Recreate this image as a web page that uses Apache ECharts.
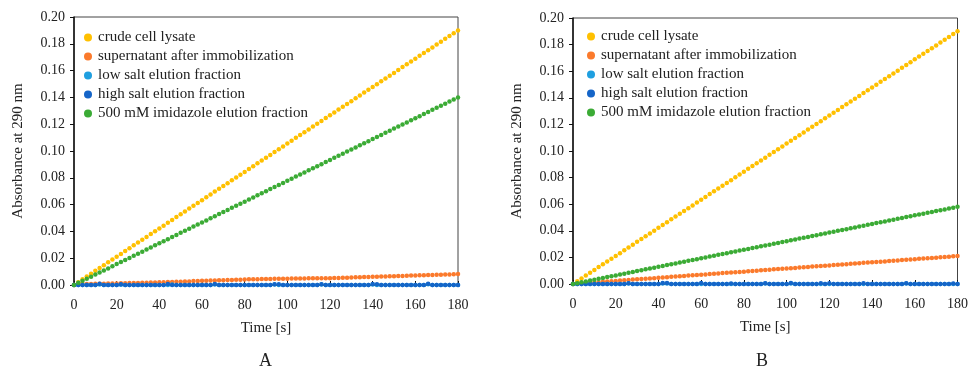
<!DOCTYPE html>
<html>
<head>
<meta charset="utf-8">
<script src="https://cdn.jsdelivr.net/npm/echarts@6/dist/echarts.min.js"></script>
<style>
  html, body { margin: 0; padding: 0; background: #fff; }
  #chart { width: 971px; height: 369px; }
</style>
</head>
<body>
<div id="chart"></div>
<script>
// Time points [s]
const times = [
  0, 2, 4, 6, 8, 10, 12, 14, 16, 18,
  20, 22, 24, 26, 28, 30, 32, 34, 36, 38,
  40, 42, 44, 46, 48, 50, 52, 54, 56, 58,
  60, 62, 64, 66, 68, 70, 72, 74, 76, 78,
  80, 82, 84, 86, 88, 90, 92, 94, 96, 98,
  100, 102, 104, 106, 108, 110, 112, 114, 116, 118,
  120, 122, 124, 126, 128, 130, 132, 134, 136, 138,
  140, 142, 144, 146, 148, 150, 152, 154, 156, 158,
  160, 162, 164, 166, 168, 170, 172, 174, 176, 178,
  180
];

const seriesNames = [
  'crude cell lysate',
  'supernatant after immobilization',
  'low salt elution fraction',
  'high salt elution fraction',
  '500 mM imidazole elution fraction'
];

// crude cell lysate (same trace in both panels)
const lysate = [
  0, 0.0021, 0.0042, 0.0063, 0.0084, 0.0106, 0.0127, 0.0148, 0.0169, 0.0190,
  0.0211, 0.0232, 0.0253, 0.0274, 0.0296, 0.0317, 0.0338, 0.0359, 0.0380, 0.0401,
  0.0422, 0.0443, 0.0464, 0.0486, 0.0507, 0.0528, 0.0549, 0.0570, 0.0591, 0.0612,
  0.0633, 0.0654, 0.0676, 0.0697, 0.0718, 0.0739, 0.0760, 0.0781, 0.0802, 0.0823,
  0.0844, 0.0866, 0.0887, 0.0908, 0.0929, 0.0950, 0.0971, 0.0992, 0.1013, 0.1034,
  0.1056, 0.1077, 0.1098, 0.1119, 0.1140, 0.1161, 0.1182, 0.1203, 0.1224, 0.1246,
  0.1267, 0.1288, 0.1309, 0.1330, 0.1351, 0.1372, 0.1393, 0.1414, 0.1436, 0.1457,
  0.1478, 0.1499, 0.1520, 0.1541, 0.1562, 0.1583, 0.1604, 0.1626, 0.1647, 0.1668,
  0.1689, 0.1710, 0.1731, 0.1752, 0.1773, 0.1794, 0.1816, 0.1837, 0.1858, 0.1879,
  0.1900
];

// Panel A
const supernatantA = [
  0, 0.0006, 0.0007, 0.0008, 0.0008, 0.0009, 0.0010, 0.0010, 0.0011, 0.0011,
  0.0012, 0.0013, 0.0013, 0.0014, 0.0015, 0.0015, 0.0016, 0.0017, 0.0018, 0.0019,
  0.0020, 0.0021, 0.0022, 0.0023, 0.0024, 0.0025, 0.0026, 0.0027, 0.0029, 0.0030,
  0.0031, 0.0032, 0.0033, 0.0034, 0.0035, 0.0036, 0.0037, 0.0038, 0.0039, 0.0040,
  0.0041, 0.0042, 0.0043, 0.0043, 0.0044, 0.0045, 0.0045, 0.0046, 0.0046, 0.0047,
  0.0047, 0.0048, 0.0048, 0.0049, 0.0049, 0.0050, 0.0050, 0.0050, 0.0050, 0.0051,
  0.0051, 0.0052, 0.0053, 0.0054, 0.0055, 0.0056, 0.0057, 0.0058, 0.0059, 0.0060,
  0.0061, 0.0062, 0.0063, 0.0064, 0.0065, 0.0066, 0.0067, 0.0068, 0.0069, 0.0070,
  0.0071, 0.0072, 0.0073, 0.0074, 0.0075, 0.0076, 0.0077, 0.0078, 0.0079, 0.0080,
  0.0082
];
const lowSaltA = [
  0, 0, 0, 0, 0, 0, 0.0004, 0, 0, 0,
  0, 0.0002, 0, 0, 0, 0, 0, 0, 0, 0,
  0, 0, 0, 0.0003, 0, 0, 0, 0, 0, 0,
  0, 0, 0, 0.0003, 0, 0, 0, 0, 0, 0,
  0, 0, 0, 0, 0, 0, 0, 0.0004, 0, 0,
  0, 0, 0, 0, 0, 0, 0, 0, 0.0003, 0,
  0, 0, 0, 0, 0, 0, 0, 0, 0, 0,
  0.0004, 0, 0, 0, 0, 0, 0, 0, 0, 0,
  0, 0, 0, 0.0005, 0, 0, 0, 0, 0, 0,
  0
];
const highSaltA = [
  0, 0, 0, 0, 0, 0, 0.0009, 0, 0, 0,
  0, 0.0006, 0, 0, 0, 0, 0, 0, 0, 0,
  0, 0, 0.0008, 0, 0, 0, 0, 0, 0, 0,
  0, 0, 0, 0.0007, 0, 0, 0, 0, 0, 0,
  0, 0, 0, 0, 0, 0, 0, 0.0006, 0.0006, 0,
  0, 0, 0, 0, 0, 0, 0, 0, 0.0005, 0,
  0, 0, 0, 0, 0, 0, 0, 0, 0, 0,
  0.0007, 0.0006, 0, 0, 0, 0, 0, 0, 0, 0,
  0, 0, 0, 0.0009, 0, 0, 0, 0, 0, 0,
  0
];
const imidazoleA = [
  0, 0.0016, 0.0031, 0.0047, 0.0062, 0.0078, 0.0093, 0.0109, 0.0124, 0.0140,
  0.0156, 0.0171, 0.0187, 0.0202, 0.0218, 0.0233, 0.0249, 0.0264, 0.0280, 0.0296,
  0.0311, 0.0327, 0.0342, 0.0358, 0.0373, 0.0389, 0.0404, 0.0420, 0.0436, 0.0451,
  0.0467, 0.0482, 0.0498, 0.0513, 0.0529, 0.0544, 0.0560, 0.0576, 0.0591, 0.0607,
  0.0622, 0.0638, 0.0653, 0.0669, 0.0684, 0.0700, 0.0716, 0.0731, 0.0747, 0.0762,
  0.0778, 0.0793, 0.0809, 0.0824, 0.0840, 0.0856, 0.0871, 0.0887, 0.0902, 0.0918,
  0.0933, 0.0949, 0.0964, 0.0980, 0.0996, 0.1011, 0.1027, 0.1042, 0.1058, 0.1073,
  0.1089, 0.1104, 0.1120, 0.1136, 0.1151, 0.1167, 0.1182, 0.1198, 0.1213, 0.1229,
  0.1244, 0.1260, 0.1276, 0.1291, 0.1307, 0.1322, 0.1338, 0.1353, 0.1369, 0.1384,
  0.1400
];

// Panel B
const supernatantB = [
  0, 0.0002, 0.0005, 0.0007, 0.0009, 0.0012, 0.0014, 0.0016, 0.0019, 0.0021,
  0.0023, 0.0026, 0.0028, 0.0030, 0.0033, 0.0035, 0.0037, 0.0040, 0.0042, 0.0044,
  0.0047, 0.0049, 0.0051, 0.0054, 0.0056, 0.0058, 0.0061, 0.0063, 0.0065, 0.0068,
  0.0070, 0.0072, 0.0075, 0.0077, 0.0079, 0.0082, 0.0084, 0.0086, 0.0089, 0.0091,
  0.0093, 0.0096, 0.0098, 0.0100, 0.0103, 0.0105, 0.0107, 0.0110, 0.0112, 0.0114,
  0.0117, 0.0119, 0.0121, 0.0124, 0.0126, 0.0128, 0.0131, 0.0133, 0.0135, 0.0138,
  0.0140, 0.0142, 0.0145, 0.0147, 0.0149, 0.0152, 0.0154, 0.0156, 0.0159, 0.0161,
  0.0163, 0.0166, 0.0168, 0.0170, 0.0173, 0.0175, 0.0177, 0.0180, 0.0182, 0.0184,
  0.0187, 0.0189, 0.0191, 0.0194, 0.0196, 0.0198, 0.0201, 0.0203, 0.0205, 0.0208,
  0.0210
];
const lowSaltB = [
  0, 0, 0, 0, 0, 0, 0, 0, 0, 0,
  0, 0, 0, 0.0003, 0, 0, 0, 0, 0, 0,
  0, 0.0004, 0.0004, 0, 0, 0, 0, 0, 0, 0,
  0, 0, 0, 0, 0, 0, 0, 0, 0, 0,
  0, 0, 0, 0, 0, 0.0003, 0, 0, 0, 0,
  0, 0.0004, 0, 0, 0, 0, 0, 0, 0, 0,
  0, 0, 0, 0, 0, 0, 0, 0, 0, 0,
  0, 0, 0, 0, 0, 0, 0, 0, 0.0003, 0,
  0, 0, 0, 0, 0, 0, 0, 0, 0, 0,
  0
];
const highSaltB = [
  0, 0, 0, 0, 0, 0, 0, 0, 0, 0,
  0, 0, 0, 0.0005, 0, 0, 0, 0, 0, 0,
  0, 0.0008, 0.0007, 0, 0, 0, 0, 0, 0, 0,
  0.0007, 0, 0, 0, 0, 0, 0, 0.0004, 0, 0,
  0, 0, 0, 0, 0, 0.0006, 0, 0, 0, 0,
  0, 0.0007, 0, 0, 0, 0, 0, 0, 0.0005, 0,
  0.0006, 0, 0, 0, 0, 0, 0, 0, 0.0006, 0,
  0, 0, 0, 0, 0, 0, 0, 0, 0.0005, 0,
  0, 0, 0, 0, 0, 0, 0, 0, 0, 0.0004,
  0
];
const imidazoleB = [
  0, 0.0006, 0.0013, 0.0019, 0.0026, 0.0032, 0.0039, 0.0045, 0.0052, 0.0058,
  0.0064, 0.0071, 0.0077, 0.0084, 0.0090, 0.0097, 0.0103, 0.0110, 0.0116, 0.0122,
  0.0129, 0.0135, 0.0142, 0.0148, 0.0155, 0.0161, 0.0168, 0.0174, 0.0180, 0.0187,
  0.0193, 0.0200, 0.0206, 0.0213, 0.0219, 0.0226, 0.0232, 0.0238, 0.0245, 0.0251,
  0.0258, 0.0264, 0.0271, 0.0277, 0.0284, 0.0290, 0.0296, 0.0303, 0.0309, 0.0316,
  0.0322, 0.0329, 0.0335, 0.0342, 0.0348, 0.0354, 0.0361, 0.0367, 0.0374, 0.0380,
  0.0387, 0.0393, 0.0400, 0.0406, 0.0412, 0.0419, 0.0425, 0.0432, 0.0438, 0.0445,
  0.0451, 0.0458, 0.0464, 0.0470, 0.0477, 0.0483, 0.0490, 0.0496, 0.0503, 0.0509,
  0.0516, 0.0522, 0.0528, 0.0535, 0.0541, 0.0548, 0.0554, 0.0561, 0.0567, 0.0574,
  0.0580
];

const colors = ['#ffc000', '#fb7a2c', '#1f9fe0', '#1565c8', '#3bab35'];
const font = '"Liberation Serif", "Times New Roman", serif';

const panelA = [lysate, supernatantA, lowSaltA, highSaltA, imidazoleA];
const panelB = [lysate, supernatantB, lowSaltB, highSaltB, imidazoleB];

const toPoints = (vals) => times.map((t, i) => [t, vals[i]]);

const makeX = (gridIndex) => ({
  gridIndex,
  type: 'value',
  min: 0,
  max: 180,
  interval: 20,
  name: 'Time [s]',
  nameLocation: 'middle',
  nameGap: 36,
  nameTextStyle: { fontFamily: font, fontSize: 15, color: '#222' },
  axisLine: { lineStyle: { color: '#111', width: 1.5 } },
  axisTick: { inside: true, length: 4, lineStyle: { color: '#111' } },
  axisLabel: { fontFamily: font, fontSize: 14, color: '#222', margin: 13 },
  splitLine: { show: false }
});

const makeY = (gridIndex) => ({
  gridIndex,
  type: 'value',
  min: 0,
  max: 0.2,
  interval: 0.02,
  name: 'Absorbance at 290 nm',
  nameLocation: 'middle',
  nameRotate: 90,
  nameGap: 48,
  nameTextStyle: { fontFamily: font, fontSize: 15, color: '#222' },
  axisLine: { show: true, lineStyle: { color: '#111', width: 1.5 } },
  axisTick: { show: true, length: 4, lineStyle: { color: '#111' } },
  axisLabel: {
    fontFamily: font, fontSize: 14, color: '#222', margin: 9,
    formatter: (v) => v.toFixed(2)
  },
  splitLine: { show: false }
});

const makeLegend = (left, top) => ({
  orient: 'vertical',
  left,
  top,
  icon: 'circle',
  itemWidth: 10,
  itemHeight: 8,
  itemGap: 4,
  selectedMode: false,
  data: seriesNames,
  textStyle: { fontFamily: font, fontSize: 15, color: '#222' }
});

const series = [];
[panelA, panelB].forEach((panel, p) => {
  panel.forEach((vals, k) => {
    series.push({
      name: seriesNames[k],
      type: 'scatter',
      xAxisIndex: p,
      yAxisIndex: p,
      symbolSize: 4.5,
      itemStyle: { color: colors[k], opacity: 1 },
      data: toPoints(vals),
      z: 2 + k
    });
  });
});

const chart = echarts.init(document.getElementById('chart'));
chart.setOption({
  animation: false,
  backgroundColor: '#fff',
  color: colors,
  grid: [
    { left: 74, top: 17, width: 384, height: 268, show: true, borderColor: '#444', borderWidth: 1 },
    { left: 573, top: 18, width: 390, height: 266, show: true, borderColor: '#444', borderWidth: 1 }
  ],
  xAxis: [makeX(0), makeX(1)],
  yAxis: [makeY(0), makeY(1)],
  legend: [makeLegend(79, 25), makeLegend(582, 24)],
  graphic: [
    { type: 'text', left: 259, top: 352, style: { text: 'A', fontFamily: font, fontSize: 18, fill: '#222' } },
    { type: 'text', left: 756, top: 352, style: { text: 'B', fontFamily: font, fontSize: 18, fill: '#222' } }
  ],
  series
});
</script>
</body>
</html>
